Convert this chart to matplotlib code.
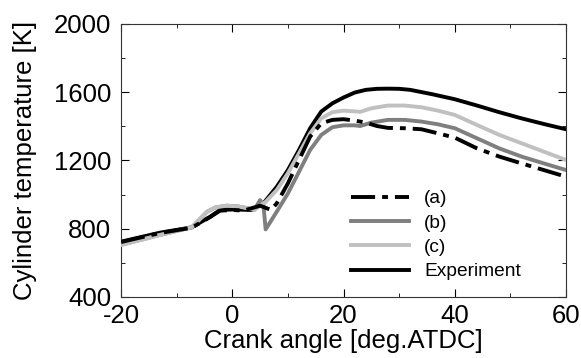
import matplotlib
matplotlib.use("Agg")
import matplotlib.pyplot as plt
from matplotlib.ticker import MultipleLocator

plt.rcParams['font.family'] = ['Liberation Sans', 'DejaVu Sans']
plt.rcParams['axes.unicode_minus'] = False

# experiment
exp_x = [-20, -13, -7.3, -4, -2.2, 0.2, 3.5, 5.6, 8, 10, 12, 14, 16, 18, 20, 22, 24, 26,
         28, 30, 32, 36, 40, 44, 48, 52, 56, 60]
exp_y = [724, 777, 808, 870, 910, 913, 910, 949, 1046, 1144, 1262, 1389, 1487, 1535, 1569,
         1598, 1614, 1620, 1621, 1620, 1614, 1588, 1559, 1522, 1483, 1447, 1414, 1383]

# (a)
a_x = [-20, -13, -7.3, -4, -2.2, 0.2, 2, 5, 7, 8, 10, 12, 14, 16, 18, 20, 22, 24, 26, 28,
       31, 34, 37, 40, 44, 48, 52, 56, 60]
a_y = [722, 775, 806, 868, 906, 910, 906, 935, 910, 949, 1066, 1203, 1340, 1418, 1438, 1442,
       1434, 1422, 1402, 1391, 1389, 1383, 1359, 1334, 1271, 1223, 1183, 1144, 1105]

# (b)
b_x = [-20, -13, -7.3, -4.5, -3, -1, 1, 3, 4, 5, 5.6, 6, 8, 10, 12, 14, 16, 18, 20, 22, 23,
       25, 28, 31, 34, 37, 40, 44, 48, 52, 56, 60]
b_y = [706, 764, 808, 900, 925, 935, 931, 919, 912, 968, 940, 796, 900, 1007, 1134, 1262,
       1350, 1395, 1406, 1406, 1402, 1422, 1438, 1438, 1428, 1412, 1389, 1330, 1271, 1223,
       1183, 1144]

# (c)
c_x = [-20, -13, -7.3, -4.5, -3, -1, 1, 3, 4, 6, 8, 10, 12, 14, 16, 18, 20, 22, 23, 25, 28,
       31, 34, 37, 40, 44, 48, 52, 56, 60]
c_y = [704, 763, 808, 900, 925, 935, 931, 919, 910, 958, 1027, 1125, 1242, 1359, 1447, 1483,
       1492, 1488, 1485, 1506, 1522, 1522, 1512, 1492, 1467, 1408, 1350, 1301, 1252, 1203]

fig = plt.figure(figsize=(5.81, 3.58), dpi=100)
ax = fig.add_axes([0.2083, 0.1704, 0.7659, 0.7626])

ax.plot(a_x, a_y, color='black', lw=2.8, dashes=(6.2, 1.8, 1.5, 1.8), label='(a)', zorder=4)
ax.plot(b_x, b_y, color='#7f7f7f', lw=2.8, label='(b)', zorder=3)
ax.plot(c_x, c_y, color='#c0c0c0', lw=2.8, label='(c)', zorder=3)
ax.plot(exp_x, exp_y, color='black', lw=2.8, label='Experiment', zorder=2)

ax.set_xlim(-20, 60)
ax.set_ylim(400, 2000)
ax.xaxis.set_major_locator(MultipleLocator(20))
ax.xaxis.set_minor_locator(MultipleLocator(10))
ax.yaxis.set_major_locator(MultipleLocator(400))
ax.yaxis.set_minor_locator(MultipleLocator(200))
ax.tick_params(which='both', direction='in', top=True, right=True, labelsize=18.5)
ax.tick_params(axis='x', pad=5)
ax.tick_params(axis='y', pad=7)
ax.tick_params(which='major', length=6)
ax.tick_params(which='minor', length=3)
for sp in ax.spines.values():
    sp.set_color('#333333')

ax.set_xlabel('Crank angle [deg.ATDC]', fontsize=18.5, labelpad=1)
ax.set_ylabel('Cylinder temperature [K]', fontsize=18.5, labelpad=12)

ax.legend(loc='upper left', bbox_to_anchor=(0.517, 0.392), frameon=False, fontsize=13.8,
          handlelength=3.0, handletextpad=0.8, labelspacing=0.36, borderpad=0,
          borderaxespad=0)

fig.savefig('out.png', dpi=100)
